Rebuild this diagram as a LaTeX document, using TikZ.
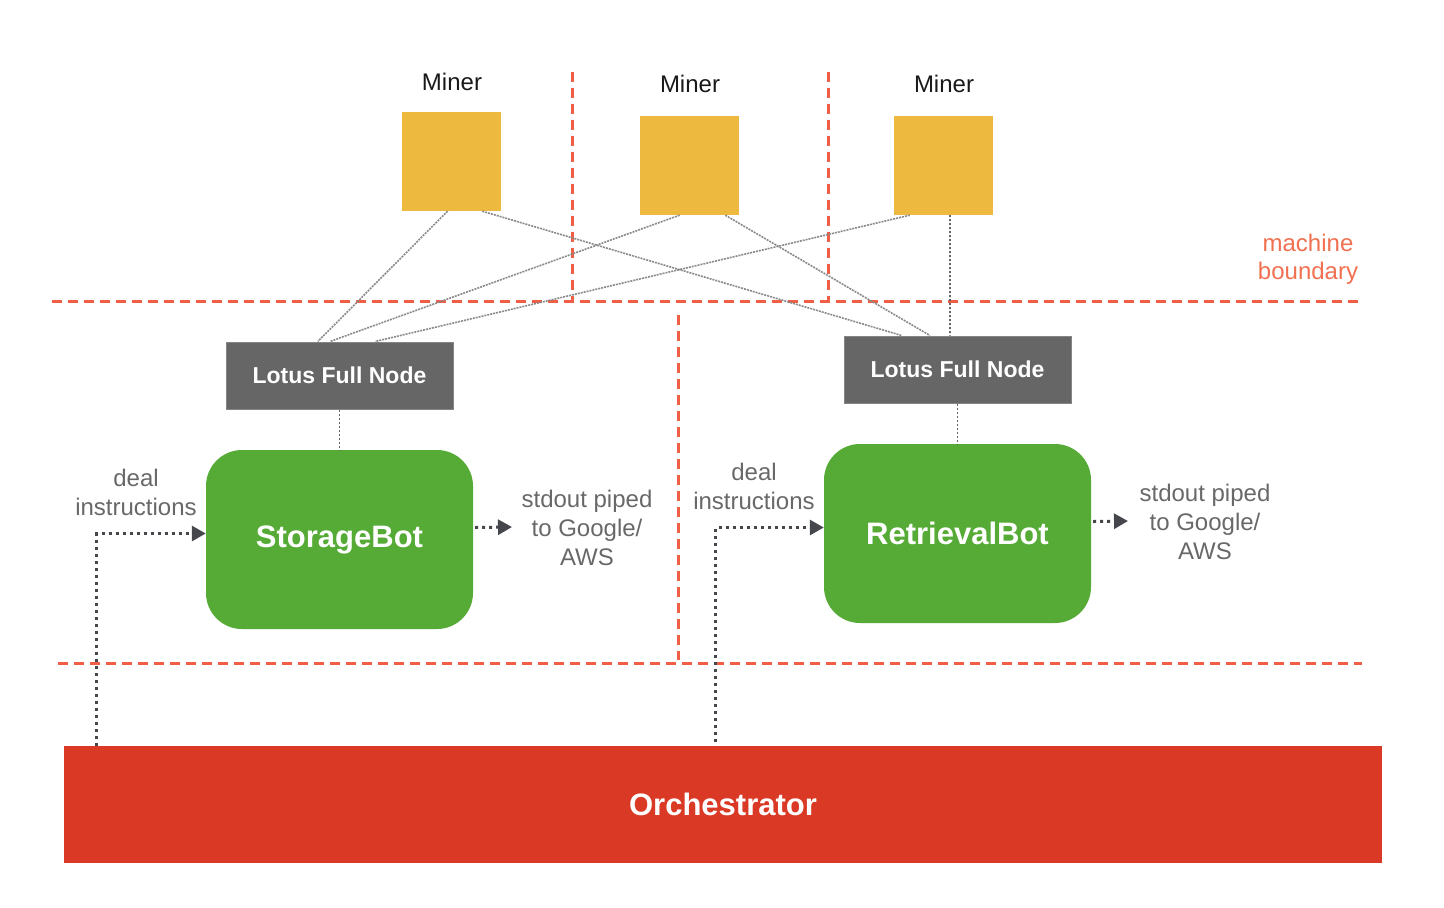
\documentclass[tikz,border=0pt]{standalone}
\usepackage{fontspec}
\setmainfont{Liberation Sans}
\usetikzlibrary{arrows.meta,calc}
\definecolor{minerY}{HTML}{EDB93F}
\definecolor{lotusG}{HTML}{666666}
\definecolor{botG}{HTML}{55AB35}
\definecolor{orchR}{HTML}{DA3A25}
\definecolor{boundR}{HTML}{EF5E45}
\definecolor{boundT}{HTML}{F07050}
\definecolor{txtG}{HTML}{686868}
\definecolor{lnkG}{HTML}{8A8A8A}
\definecolor{vlnkG}{HTML}{666666}
\definecolor{arrG}{HTML}{45474C}
\begin{document}
\begin{tikzpicture}[x=1pt,y=-1pt,
  minerbox/.style={fill=minerY, minimum width=99pt, minimum height=99pt, inner sep=0pt},
  minerlbl/.style={text=black!90, font=\fontsize{24}{29}\selectfont},
  lotusbox/.style={fill=lotusG, draw=lotusG!80, line width=1pt, minimum width=227pt, minimum height=67pt, inner sep=0pt, text=white, font=\fontsize{23}{27}\selectfont\bfseries},
  botbox/.style={fill=botG, rounded corners=36pt, minimum width=267pt, minimum height=179pt, inner sep=0pt, text=white, font=\fontsize{31}{36}\selectfont\bfseries},
  orchbox/.style={fill=orchR, minimum width=1318pt, minimum height=117pt, inner sep=0pt, text=white, font=\fontsize{31}{36}\selectfont\bfseries},
  lbl/.style={text=txtG, align=center, inner sep=0pt, font=\fontsize{24}{29}\selectfont},
  boundlbl/.style={text=boundT, align=center, inner sep=0pt, font=\fontsize{24}{28}\selectfont},
  boundary/.style={draw=boundR, line width=3pt, dash pattern=on 10pt off 6pt},
  link/.style={draw=lnkG, line width=1.6pt, dash pattern=on 2pt off 1pt},
  vlink/.style={draw=vlnkG, line width=1.8pt, dash pattern=on 2pt off 2pt},
  flow/.style={draw=arrG, line width=3pt, dash pattern=on 3pt off 4pt, -{Triangle[length=14pt,width=15pt]}}
]
\useasboundingbox (0,0) rectangle (1444,908);

% boundaries
\draw[boundary] (52,301) -- (1360,301);
\draw[boundary] (58,663) -- (1362,663);
\draw[boundary] (572,72) -- (572,301);
\draw[boundary] (828,72) -- (828,301);
\draw[boundary] (678,315) -- (678,660);
\node[boundlbl] (mb) at (1308,259) {machine\\boundary};

% miners
\node[minerbox] (m1) at (451.5,161.5) {};
\node[minerbox] (m2) at (689.5,165.5) {};
\node[minerbox] (m3) at (943.5,165.5) {};
\node[minerlbl] (m1l) at (452,82) {Miner};
\node[minerlbl] (m2l) at (690,84) {Miner};
\node[minerlbl] (m3l) at (944,84) {Miner};

% lotus nodes
\node[lotusbox] (l1) at (339.5,375.5) {Lotus Full Node};
\node[lotusbox] (l2) at (957.5,369.5) {Lotus Full Node};

% bots
\node[botbox] (sb) at (339.5,539.5) {StorageBot};
\node[botbox] (rb) at (957.5,533.5) {RetrievalBot};

% orchestrator
\node[orchbox] (or) at (723,804.5) {Orchestrator};

% miner to lotus links
\draw[link] ($(m1.south west)!0.46!(m1.south east)$) -- ($(l1.north west)!0.405!(l1.north east)$);
\draw[link] ($(m1.south west)!0.81!(m1.south east)$) -- ($(l2.north west)!0.255!(l2.north east)$);
\draw[link] ($(m2.south west)!0.40!(m2.south east)$) -- ($(l1.north west)!0.458!(l1.north east)$);
\draw[link] ($(m2.south west)!0.86!(m2.south east)$) -- ($(l2.north west)!0.379!(l2.north east)$);
\draw[link] ($(m3.south west)!0.16!(m3.south east)$) -- ($(l1.north west)!0.656!(l1.north east)$);
\draw[vlink] ($(m3.south west)!0.566!(m3.south east)$) -- ($(l2.north west)!0.467!(l2.north east)$);

% lotus to bot
\draw[vlink] (l1.south) -- (sb.north);
\draw[vlink] (l2.south) -- (rb.north);

% deal instructions
\node[lbl] (d1) at (136,492) {deal\\instructions};
\node[lbl] (d2) at (754,486) {deal\\instructions};
\draw[flow] ($(or.north west)+(33,0)$) |- ($(sb.west)+(0,-6)$);
\draw[flow] ($(or.north west)+(652,-4)$) |- ($(rb.west)+(0,-6)$);

% stdout
\node[lbl] (s1) at (587,528) {stdout piped\\to Google/\\AWS};
\node[lbl] (s2) at (1205,522) {stdout piped\\to Google/\\AWS};
\coordinate (s1e) at (512,527);
\coordinate (s2e) at (1128,521);
\draw[flow] ($(sb.east)+(2,-12)$) -- (s1e);
\draw[flow] ($(rb.east)+(2,-12)$) -- (s2e);
\end{tikzpicture}
\end{document}
